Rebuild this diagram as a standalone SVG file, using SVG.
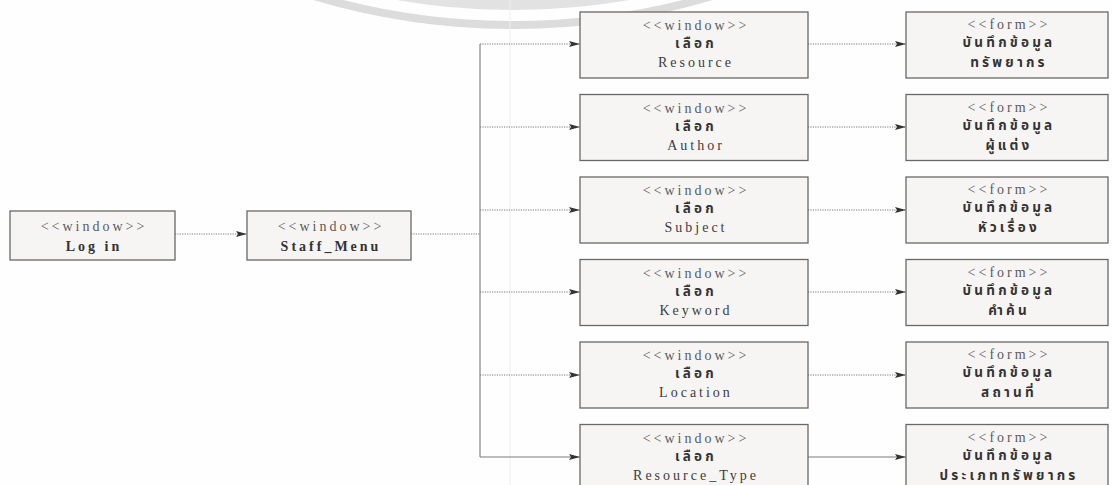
<svg xmlns="http://www.w3.org/2000/svg" width="1112" height="485" viewBox="0 0 1112 485">
  <style>
    .box { fill: #f7f5f4; stroke: #686868; stroke-width: 1.3; }
    .st { font-family: "Liberation Serif", "Times New Roman", serif; font-size: 14px; fill: #5a5a5a; letter-spacing: 3px; text-anchor: middle; }
    .nm { font-family: "Liberation Serif", "Times New Roman", serif; font-size: 14px; fill: #3c3c3c; letter-spacing: 3px; text-anchor: middle; }
    .bold { font-weight: bold; fill: #333; }
    .th { font-family: "Noto Sans Thai", "Noto Serif Thai", "Loma", "Garuda", "Norasi", "Tlwg Typo", "Noto Sans", sans-serif; font-size: 13.5px; fill: #333; letter-spacing: 3.2px; text-anchor: middle; font-weight: bold; }
    .dot { fill: none; stroke: #7a7a7a; stroke-width: 1.1; stroke-dasharray: 1.2 1.2; }
    .solid { fill: none; stroke: #7a7a7a; stroke-width: 1.1; }
  </style>
  <defs>
    <marker id="arrow" viewBox="0 0 11 6" refX="11" refY="3" markerWidth="11" markerHeight="6" markerUnits="userSpaceOnUse" orient="auto">
      <path d="M0,0 L11,3 L0,6 L2,3 Z" fill="#333"/>
    </marker>
  </defs>

  <rect width="1112" height="485" fill="#fefefe"/>

  <!-- faint seal printed behind the top edge -->
  <g id="seal" fill="none">
    <circle cx="513" cy="-672" r="682" fill="#e2e2e2"/>
    <circle cx="513" cy="-672" r="697" stroke="#dcdcdc" stroke-width="8"/>
  </g>
  <line x1="510" y1="0" x2="510" y2="485" stroke="#f4ecec" stroke-width="1"/>

  <!-- connectors -->
  <g id="connectors">
    <line class="dot" x1="175" y1="234" x2="247" y2="234" marker-end="url(#arrow)"/>
    <line class="dot" x1="411" y1="234" x2="480" y2="234"/>
    <line class="solid" x1="480" y1="44" x2="480" y2="457"/>
    <line class="dot" x1="480" y1="44" x2="580" y2="44" marker-end="url(#arrow)"/>
    <line class="dot" x1="480" y1="127" x2="580" y2="127" marker-end="url(#arrow)"/>
    <line class="dot" x1="480" y1="210" x2="580" y2="210" marker-end="url(#arrow)"/>
    <line class="dot" x1="480" y1="292" x2="580" y2="292" marker-end="url(#arrow)"/>
    <line class="dot" x1="480" y1="375" x2="580" y2="375" marker-end="url(#arrow)"/>
    <line class="solid" x1="480" y1="457" x2="580" y2="457" marker-end="url(#arrow)"/>
    <line class="dot" x1="808" y1="44" x2="906" y2="44" marker-end="url(#arrow)"/>
    <line class="dot" x1="808" y1="127" x2="906" y2="127" marker-end="url(#arrow)"/>
    <line class="dot" x1="808" y1="210" x2="906" y2="210" marker-end="url(#arrow)"/>
    <line class="dot" x1="808" y1="292" x2="906" y2="292" marker-end="url(#arrow)"/>
    <line class="dot" x1="808" y1="375" x2="906" y2="375" marker-end="url(#arrow)"/>
    <line class="solid" x1="808" y1="457" x2="906" y2="457" marker-end="url(#arrow)"/>
  </g>

  <!-- nodes -->
  <g id="login">
    <rect class="box" x="10" y="211" width="165" height="49"/>
    <text class="st" x="94" y="231">&lt;&lt;window&gt;&gt;</text>
    <text class="nm bold" x="94" y="251">Log in</text>
  </g>
  <g id="staff-menu">
    <rect class="box" x="247" y="211" width="164" height="49"/>
    <text class="st" x="331" y="231">&lt;&lt;window&gt;&gt;</text>
    <text class="nm bold" x="331" y="251">Staff_Menu</text>
  </g>

  <g id="win-resource">
    <rect class="box" x="580" y="12" width="228" height="66"/>
    <text class="st" x="696" y="30">&lt;&lt;window&gt;&gt;</text>
    <text class="th" x="696" y="48">เลือก</text>
    <text class="nm" x="696" y="67">Resource</text>
  </g>
  <g id="form-resource">
    <rect class="box" x="906" y="12" width="202" height="66"/>
    <text class="st" x="1009" y="29">&lt;&lt;form&gt;&gt;</text>
    <text class="th" x="1009" y="47">บันทึกข้อมูล</text>
    <text class="th" x="1009" y="67">ทรัพยากร</text>
  </g>

  <g id="win-author">
    <rect class="box" x="580" y="94.5" width="228" height="66"/>
    <text class="st" x="696" y="112.5">&lt;&lt;window&gt;&gt;</text>
    <text class="th" x="696" y="130.5">เลือก</text>
    <text class="nm" x="696" y="149.5">Author</text>
  </g>
  <g id="form-author">
    <rect class="box" x="906" y="94.5" width="202" height="66"/>
    <text class="st" x="1009" y="111.5">&lt;&lt;form&gt;&gt;</text>
    <text class="th" x="1009" y="129.5">บันทึกข้อมูล</text>
    <text class="th" x="1009" y="149.5">ผู้แต่ง</text>
  </g>

  <g id="win-subject">
    <rect class="box" x="580" y="177" width="228" height="66"/>
    <text class="st" x="696" y="195">&lt;&lt;window&gt;&gt;</text>
    <text class="th" x="696" y="213">เลือก</text>
    <text class="nm" x="696" y="232">Subject</text>
  </g>
  <g id="form-subject">
    <rect class="box" x="906" y="177" width="202" height="66"/>
    <text class="st" x="1009" y="194">&lt;&lt;form&gt;&gt;</text>
    <text class="th" x="1009" y="212">บันทึกข้อมูล</text>
    <text class="th" x="1009" y="232">หัวเรื่อง</text>
  </g>

  <g id="win-keyword">
    <rect class="box" x="580" y="259.5" width="228" height="66"/>
    <text class="st" x="696" y="277.5">&lt;&lt;window&gt;&gt;</text>
    <text class="th" x="696" y="295.5">เลือก</text>
    <text class="nm" x="696" y="314.5">Keyword</text>
  </g>
  <g id="form-keyword">
    <rect class="box" x="906" y="259.5" width="202" height="66"/>
    <text class="st" x="1009" y="276.5">&lt;&lt;form&gt;&gt;</text>
    <text class="th" x="1009" y="294.5">บันทึกข้อมูล</text>
    <text class="th" x="1009" y="314.5">คำค้น</text>
  </g>

  <g id="win-location">
    <rect class="box" x="580" y="342" width="228" height="66"/>
    <text class="st" x="696" y="360">&lt;&lt;window&gt;&gt;</text>
    <text class="th" x="696" y="378">เลือก</text>
    <text class="nm" x="696" y="397">Location</text>
  </g>
  <g id="form-location">
    <rect class="box" x="906" y="342" width="202" height="66"/>
    <text class="st" x="1009" y="359">&lt;&lt;form&gt;&gt;</text>
    <text class="th" x="1009" y="377">บันทึกข้อมูล</text>
    <text class="th" x="1009" y="397">สถานที่</text>
  </g>

  <g id="win-resource-type">
    <rect class="box" x="580" y="424.5" width="228" height="66"/>
    <text class="st" x="696" y="442.5">&lt;&lt;window&gt;&gt;</text>
    <text class="th" x="696" y="460.5">เลือก</text>
    <text class="nm" x="696" y="479.5">Resource_Type</text>
  </g>
  <g id="form-resource-type">
    <rect class="box" x="906" y="424.5" width="202" height="66"/>
    <text class="st" x="1009" y="441.5">&lt;&lt;form&gt;&gt;</text>
    <text class="th" x="1009" y="459.5">บันทึกข้อมูล</text>
    <text class="th" x="1009" y="479.5">ประเภททรัพยากร</text>
  </g>
</svg>
